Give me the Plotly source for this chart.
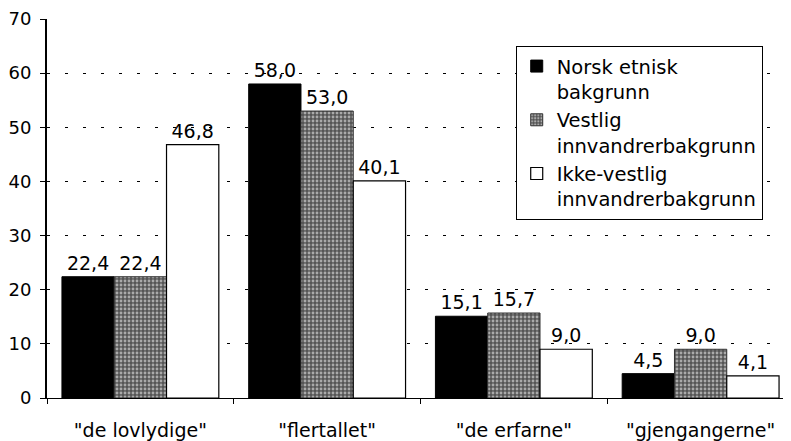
import plotly.graph_objects as go

categories = ['"de lovlydige"', '"flertallet"', '"de erfarne"', '"gjengangerne"']
series_names = ["Norsk etnisk<br>bakgrunn",
                "Vestlig<br>innvandrerbakgrunn",
                "Ikke-vestlig<br>innvandrerbakgrunn"]
norsk = [22.4, 58.0, 15.1, 4.5]
vestlig = [22.4, 53.0, 15.7, 9.0]
ikke_vestlig = [46.8, 40.1, 9.0, 4.1]
y_ticks = [0, 10, 20, 30, 40, 50, 60, 70]

FONT = "DejaVu Sans"


def lab(vals):
    return [f"{v:.1f}".replace(".", ",") for v in vals]


fig = go.Figure()
fig.add_bar(x=categories, y=norsk, name=series_names[0], text=lab(norsk),
            marker=dict(color="black", line=dict(color="black", width=1)))
fig.add_bar(x=categories, y=vestlig, name=series_names[1], text=lab(vestlig),
            marker=dict(color="#666666", line=dict(color="#333333", width=1),
                        pattern=dict(shape=".", fgcolor="white", bgcolor="#555555",
                                     size=4, solidity=0.4)))
fig.add_bar(x=categories, y=ikke_vestlig, name=series_names[2], text=lab(ikke_vestlig),
            marker=dict(color="white", line=dict(color="black", width=1.2)))

fig.update_traces(textposition="outside", cliponaxis=False, constraintext="none",
                  textfont=dict(family=FONT, size=19, color="black"))

# page body has an 8px margin, so the figure is a bit smaller than the window
fig.update_layout(
    width=783, height=433,
    margin=dict(l=37, r=0, t=11, b=42),
    paper_bgcolor="white", plot_bgcolor="white",
    barmode="group", bargap=0.16, bargroupgap=0,
    font=dict(family=FONT, size=18, color="black"),
    showlegend=True,
    legend=dict(x=0.63, y=0.929, xanchor="left", yanchor="top",
                bgcolor="white", bordercolor="black", borderwidth=1,
                font=dict(family=FONT, size=19.5, color="black"),
                valign="top", tracegroupgap=0),
    xaxis=dict(type="category", range=[-0.5, 3.484], showline=True,
               linecolor="black", linewidth=1, ticks="outside", tickson="boundaries",
               ticklen=5, tickcolor="black", showgrid=False,
               tickfont=dict(family=FONT, size=19), ticklabelstandoff=15),
    yaxis=dict(range=[0, 70], tickvals=y_ticks, showline=True, linecolor="black",
               linewidth=2, ticks="outside", ticklen=5, tickcolor="black",
               showgrid=True, gridcolor="black", gridwidth=1.2, griddash="3px,15px",
               zeroline=False, tickfont=dict(family=FONT, size=18),
               ticklabelstandoff=5),
)

fig.write_html("out.html")
